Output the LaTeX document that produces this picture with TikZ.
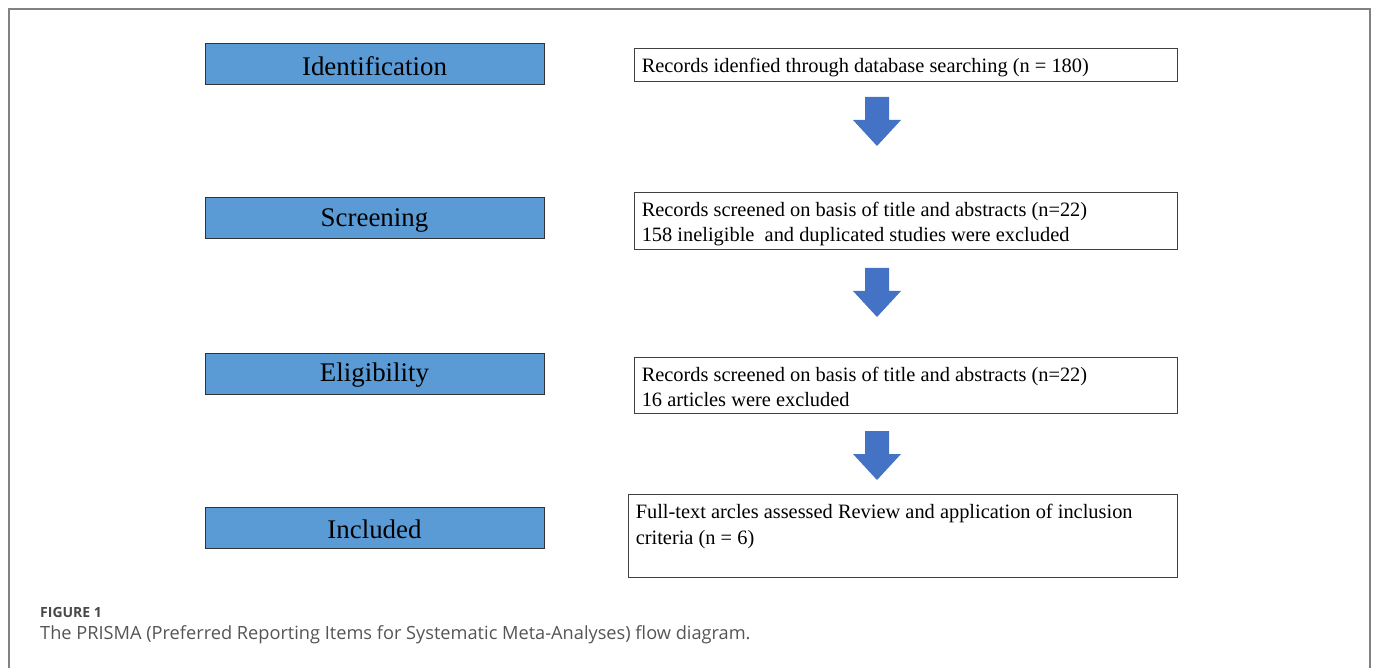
\documentclass[tikz,border=0pt]{standalone}
\usepackage{fontspec}
\setmainfont{Liberation Serif}
\newfontfamily\capfont{Open Sans}
\definecolor{stageblue}{RGB}{91,155,213}
\definecolor{arrowblue}{RGB}{68,114,196}
\definecolor{framegray}{RGB}{130,130,130}
\definecolor{capgray}{RGB}{85,85,85}
\begin{document}
\begin{tikzpicture}[x=1pt,y=-1pt,
  stagebox/.style={draw=black!80,line width=1pt,fill=stageblue,minimum width=339pt,minimum height=41pt,inner sep=0pt},
  stagetext/.style={font=\fontsize{26.9}{30}\selectfont,inner sep=0pt},
  infobox/.style={draw=black!75,line width=0.9pt,fill=white,inner sep=0pt},
  infotext/.style={anchor=north west,align=left,inner sep=0pt,font=\fontsize{20.4}{24.5}\selectfont},
  blockarrow/.style={fill=arrowblue,draw=none}
]
\useasboundingbox (0,0) rectangle (1376,668);
% outer frame
\draw[framegray,line width=2pt] (9,668) -- (9,9) -- (1370,9) -- (1370,668);
% stage boxes
\node[stagebox] (ident) at (374.5,64.5) {};
\node[stagebox] (screen) at (374.5,218.5) {};
\node[stagebox] (elig) at (374.5,373.5) {};
\node[stagebox] (incl) at (374.5,527.5) {};
\node[stagetext] (identt) at ([yshift=-2pt]ident.center) {Identification};
\node[stagetext] (screent) at ([yshift=-2pt]screen.center) {Screening};
\node[stagetext] (eligt) at ([yshift=-2pt]elig.center) {Eligibility};
\node[stagetext] (inclt) at ([yshift=-2pt]incl.center) {Included};
% info boxes
\node[infobox,minimum width=543pt,minimum height=33pt] (r1) at (905.5,64.5) {};
\node[infobox,minimum width=543pt,minimum height=57pt] (r2) at (905.5,220.5) {};
\node[infobox,minimum width=543pt,minimum height=56pt] (r3) at (905.5,385) {};
\node[infobox,minimum width=549pt,minimum height=83pt] (r4) at (902.5,535.5) {};
\node[infotext] (t1) at ([xshift=8pt,yshift=-10pt]r1.north west) {Records idenfied through database searching (n = 180)};
\node[infotext] (t2) at ([xshift=8pt,yshift=-10.5pt]r2.north west) {Records screened on basis of title and abstracts (n=22)\\158 ineligible\ \ and duplicated studies were excluded};
\node[infotext] (t3) at ([xshift=8pt,yshift=-10.5pt]r3.north west) {Records screened on basis of title and abstracts (n=22)\\16 articles were excluded};
\node[infotext,font=\fontsize{20.4}{26}\selectfont] (t4) at ([xshift=8pt,yshift=-10.5pt]r4.north west) {Full-text arcles assessed Review and application of inclusion\\criteria (n = 6)};
% block arrows
\coordinate (A1) at (877,97);
\coordinate (A2) at (877,268);
\coordinate (A3) at (877,431);
\foreach \c in {A1,A2,A3}{
  \fill[blockarrow] ([xshift=-12pt]\c) -- ++(0,23) -- ++(-12,0) -- ++(24,26) -- ++(24,-26) -- ++(-12,0) -- ++(0,-23) -- cycle;
}
% caption
\node[anchor=west,inner sep=0pt,font=\capfont\bfseries\fontsize{14}{16}\selectfont,text=capgray!85!black] (figlab) at (40,612) {FIGURE 1};
\node[anchor=west,inner sep=0pt,font=\capfont\fontsize{18.2}{22}\selectfont,text=capgray] (cap) at (40,635) {The PRISMA (Preferred Reporting Items for Systematic Meta-Analyses) flow diagram.};
\end{tikzpicture}
\end{document}
